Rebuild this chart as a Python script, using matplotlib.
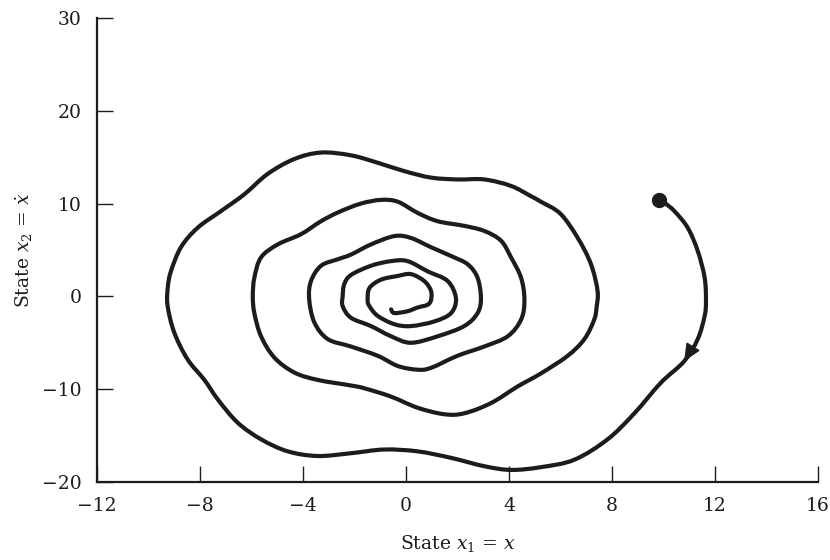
import matplotlib
matplotlib.use("Agg")
import matplotlib.pyplot as plt
import numpy as np
from matplotlib.patches import PathPatch
from matplotlib.path import Path

INK = "#1c1c1c"
FONT_FAMILY = "DejaVu Serif"

# Phase-plane trajectory, starting at the dot and spiralling inwards (clockwise)
state_x1 = [
    9.84, 10.03, 10.42, 10.94, 11.33, 11.6, 11.65, 11.6, 11.33, 10.8,
    9.9, 8.87, 7.83, 6.54, 5.24, 4.08, 3.04, 1.75, 0.45, -0.84,
    -2.14, -3.43, -4.59, -5.63, -6.54, -7.31, -7.83, -8.48, -9.0, -9.26,
    -9.25, -9.13, -8.74, -8.09, -7.18, -6.28, -5.37, -4.34, -3.3, -2.14,
    -1.1, -0.07, 0.97, 2.0, 3.04, 4.08, 4.85, 5.24, 6.0, 6.67,
    7.18, 7.44, 7.4, 7.31, 6.93, 6.28, 5.24, 4.34, 3.3, 2.26,
    1.49, 0.45, -0.58, -1.62, -2.14, -3.43, -4.34, -5.11, -5.63, -5.89,
    -5.95, -5.89, -5.63, -4.98, -4.08, -3.3, -2.6, -1.75, -0.97, -0.32,
    0.45, 1.23, 2.26, 3.04, 3.69, 4.08, 4.47, 4.6, 4.47, 3.95, 3.04,
    2.0, 0.97, 0.45, -0.32, -1.1, -2.14, -3.04, -3.56, -3.76, -3.69,
    -3.3, -2.65, -2.14, -1.36, -0.45, 0.19, 0.97, 1.75, 2.4, 2.78,
    2.91, 2.78, 2.26, 1.23, 0.19, -0.58, -1.36, -2.14, -2.46, -2.46,
    -2.4, -2.14, -1.36, -0.58, 0.06, 0.84, 1.62, 1.94, 1.75, 1.1,
    0.19, -0.45, -1.1, -1.42, -1.49, -1.42, -0.97, -0.32, 0.19, 0.71,
    0.97, 0.97, 0.84, 0.45, 0.06, -0.45, -0.58,
]
state_x2 = [
    10.4, 10.1, 9.2, 7.4, 4.9, 2.0, -0.5, -2.1, -4.6, -7.0,
    -9.3, -12.6, -15.4, -17.6, -18.4, -18.7, -18.3, -17.4, -16.7, -16.5,
    -16.9, -17.2, -16.7, -15.4, -13.6, -11.1, -9.0, -6.8, -3.9, -1.0,
    1.0, 2.7, 5.3, 7.4, 9.2, 11.0, 13.2, 14.8, 15.5, 15.2,
    14.4, 13.5, 12.8, 12.6, 12.6, 11.9, 10.8, 10.2, 8.9, 6.3,
    3.5, 0.6, -1.2, -2.5, -4.6, -6.4, -8.3, -9.7, -11.5, -12.6,
    -12.7, -12.0, -10.8, -9.9, -9.6, -9.0, -8.2, -6.6, -4.3, -1.8,
    0.0, 2.0, 4.2, 5.6, 6.7, 8.1, 9.1, 10.0, 10.4, 10.2,
    9.0, 8.1, 7.6, 7.05, 6.0, 4.2, 2.0, -0.4, -2.5, -4.3, -5.4,
    -6.4, -7.7, -7.9, -7.5, -6.4, -5.4, -4.6, -2.8, -0.3, 1.65,
    3.3, 4.0, 4.5, 5.6, 6.5, 6.3, 5.3, 4.35, 3.45, 2.0,
    -0.2, -1.8, -3.2, -4.3, -5.0, -4.3, -3.2, -2.3, -1.05, 0.0,
    1.3, 2.3, 3.3, 3.8, 3.8, 2.7, 1.65, -0.2, -1.8, -2.7,
    -3.2, -3.0, -2.1, -1.05, -0.4, 0.9, 1.8, 2.2, 2.4, 1.65,
    0.6, -0.4, -0.9, -1.2, -1.6, -1.8, -1.4,
]
ARROW_AT = 9  # trajectory sample where the direction arrow sits

x_ticks = [-12, -8, -4, 0, 4, 8, 12, 16]
y_ticks = [-20, -10, 0, 10, 20, 30]


def smooth_path(xs, ys):
    """Catmull-Rom style cubic Bezier path running through every sample."""
    pts = np.column_stack([xs, ys])
    padded = np.vstack([pts[0], pts, pts[-1]])
    verts = [pts[0]]
    codes = [Path.MOVETO]
    for i in range(len(pts) - 1):
        p0, p1, p2, p3 = padded[i], padded[i + 1], padded[i + 2], padded[i + 3]
        verts += [p1 + (p2 - p0) / 6.0, p2 - (p3 - p1) / 6.0, p2]
        codes += [Path.CURVE4] * 3
    return Path(verts, codes)


plt.rcParams["font.family"] = [FONT_FAMILY, "DejaVu Sans"]
plt.rcParams["mathtext.fontset"] = "dejavuserif"

fig = plt.figure(figsize=(8.3, 5.6), dpi=100)
fig.patch.set_facecolor("white")
ax = fig.add_axes([0.1169, 0.1393, 0.8686, 0.8286])

x1 = np.array(state_x1)
x2 = np.array(state_x2)
ax.add_patch(PathPatch(smooth_path(x1, x2), fill=False, lw=3.0, ec=INK,
                       capstyle="round", joinstyle="round", zorder=3))
ax.plot(x1[0], x2[0], "o", color=INK, ms=10, zorder=4)

ax.annotate("", xy=(x1[ARROW_AT], x2[ARROW_AT]),
            xytext=(x1[ARROW_AT - 1], x2[ARROW_AT - 1]),
            arrowprops=dict(arrowstyle="-|>,head_length=1.0,head_width=0.45",
                            mutation_scale=11, color=INK, lw=1,
                            shrinkA=0, shrinkB=0), zorder=5)

ax.set_xlim(x_ticks[0], x_ticks[-1])
ax.set_ylim(y_ticks[0], y_ticks[-1])
ax.set_xticks(x_ticks)
ax.set_yticks(y_ticks)
ax.tick_params(axis="both", direction="in", length=11.5, width=1.0,
               colors=INK, labelsize=13.5)
ax.tick_params(axis="x", pad=11)
ax.tick_params(axis="y", pad=11)

for side in ["top", "right"]:
    ax.spines[side].set_visible(False)
for side in ["left", "bottom"]:
    ax.spines[side].set_linewidth(1.6)
    ax.spines[side].set_color(INK)

ax.set_xlabel("State $x_1$ = $x$", fontsize=13.5, color=INK, labelpad=13)
ax.set_ylabel("State $x_2$ = $\\dot{x}$", fontsize=13.5, color=INK, labelpad=5)

fig.savefig("out.png", dpi=100, facecolor="white")
plt.close(fig)
